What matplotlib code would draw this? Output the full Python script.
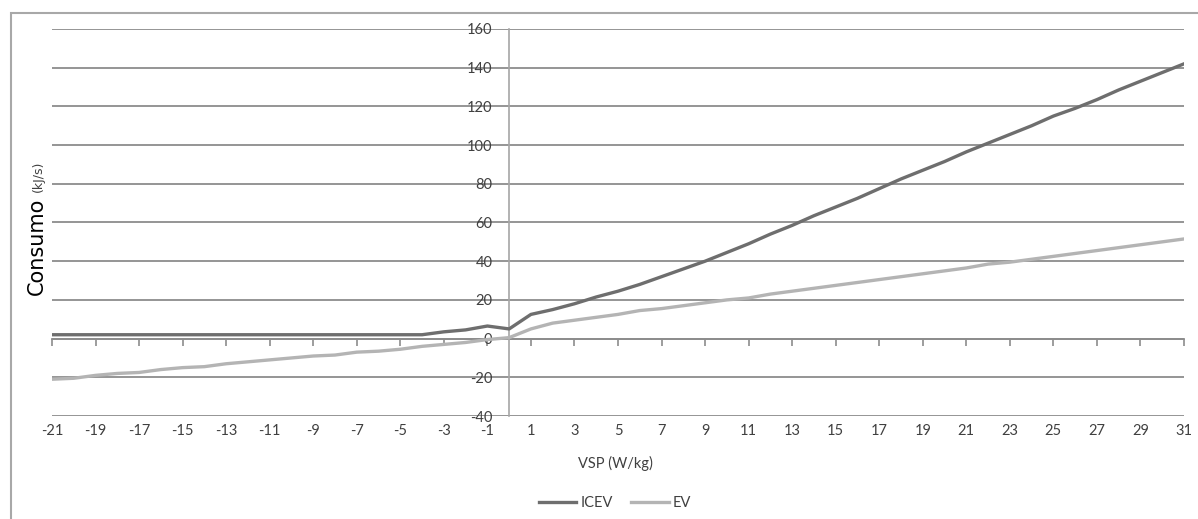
import numpy as np
import matplotlib.pyplot as plt
from matplotlib.patches import Rectangle

# VSP bins (W/kg)
vsp = list(range(-21, 32))

# consumption (kJ/s)
icev = [2.0] * 18 + [3.5, 4.5, 6.5, 5.0,
        12.5, 15.0, 18.0, 21.5, 24.5, 28.0, 32.0, 36.0, 40.0, 44.5,
        49.0, 54.0, 58.5, 63.5, 68.0, 72.5, 77.5, 82.5, 87.0, 91.5,
        96.5, 101.0, 105.5, 110.0, 115.0, 119.0, 123.5, 128.5, 133.0, 137.5,
        142.0]
ev = [-21.0, -20.5, -19.0, -18.0, -17.5, -16.0, -15.0, -14.5, -13.0, -12.0,
      -11.0, -10.0, -9.0, -8.5, -7.0, -6.5, -5.5, -4.0, -3.0, -2.0,
      -0.5, 0.5,
      5.0, 8.0, 9.5, 11.0, 12.5, 14.5, 15.5, 17.0, 18.5, 20.0,
      21.0, 23.0, 24.5, 26.0, 27.5, 29.0, 30.5, 32.0, 33.5, 35.0,
      36.5, 38.5, 39.5, 41.0, 42.5, 44.0, 45.5, 47.0, 48.5, 50.0,
      51.5]

xticks = list(range(-21, 32, 2))
yticks = list(range(-40, 161, 20))

plt.rcParams['font.family'] = ['Lato', 'DejaVu Sans']
plt.rcParams['axes.unicode_minus'] = False
TXT = '#404040'
GRID = '#8c8c8c'
FS = 10.5

fig = plt.figure(figsize=(11.98, 5.19), dpi=100)
ax = fig.add_axes([52 / 1198, 1 - 416 / 519, (1184 - 52) / 1198, (416 - 29) / 519])

# outer chart frame (runs off the right/bottom edge)
fig.patches.append(Rectangle((11 / 1198, -0.05), 1.05, 1 - 13 / 519 + 0.05,
                             transform=fig.transFigure, fill=False,
                             edgecolor='#a8a8a8', linewidth=1.5))

ax.plot(vsp, icev, color='#6e6e6e', linewidth=2.4, label='ICEV', zorder=3)
ax.plot(vsp, ev, color='#b4b4b4', linewidth=2.4, label='EV', zorder=3)

ax.set_xlim(-21, 31)
ax.set_ylim(-40, 160)
ax.set_yticks(yticks)
ax.grid(axis='y', color=GRID, linewidth=1.3)
ax.set_axisbelow(True)

for s in ['top', 'right', 'bottom']:
    ax.spines[s].set_visible(False)
ax.spines['left'].set_position(('data', 0))
ax.spines['left'].set_color('#a6a6a6')
ax.spines['left'].set_linewidth(1.2)
ax.tick_params(axis='y', length=0, pad=12, labelsize=FS, labelcolor=TXT)

# x tick labels at the bottom, tick marks on the zero line
ax.set_xticks(xticks)
ax.tick_params(axis='x', length=0, pad=6, labelsize=FS, labelcolor=TXT)
zero_ax = ax.secondary_xaxis(0, transform=ax.transData)
zero_ax.set_xticks(xticks)
zero_ax.set_xticklabels([])
zero_ax.tick_params(axis='x', direction='out', length=5, color=GRID, width=1.2)
zero_ax.spines['bottom'].set_color(GRID)
zero_ax.spines['bottom'].set_linewidth(1.3)

fig.text(615 / 1198, 1 - 463 / 519, 'VSP (W/kg)', ha='center', va='center',
         fontsize=FS, color=TXT)

fig.text(37 / 1198, 1 - 246 / 519, 'Consumo', rotation=90, ha='center',
         va='center', fontsize=15, color='black', family='DejaVu Sans')
fig.text(38 / 1198, 1 - 176 / 519, '(kJ/s)', rotation=90, ha='center',
         va='center', fontsize=9, color=TXT, family='DejaVu Sans')

fig.legend(loc='center', bbox_to_anchor=(615 / 1198, 1 - 503 / 519), ncol=2,
           frameon=False, fontsize=FS, handlelength=2.6, columnspacing=1.2,
           handletextpad=0.3, labelcolor=TXT)

fig.savefig('out.png', dpi=100)
